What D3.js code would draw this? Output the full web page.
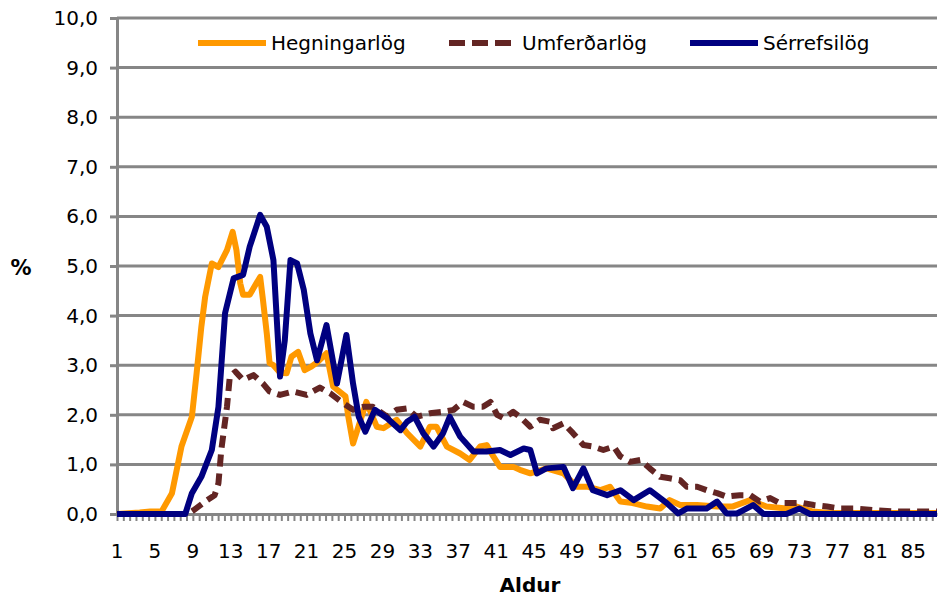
<!DOCTYPE html>
<html>
<head>
<meta charset="utf-8">
<script src="https://cdn.jsdelivr.net/npm/d3@7"></script>
<style>
  body { margin: 0; background: #fff; }
  text { font-family: Verdana, "DejaVu Sans", sans-serif; }
</style>
</head>
<body>
<div id="roott"></div>
<script>
// tick labels
let ageTicks = [1, 5, 9, 13, 17, 21, 25, 29, 33, 37, 41, 45, 49, 53, 57, 61, 65, 69, 73, 77, 81, 85];
let pctTicks = [0, 1, 2, 3, 4, 5, 6, 7, 8, 9, 10];

// Hegningarlög
let hegnAge = [1, 3.4, 4.5, 5.7, 6.8, 7.8, 8.9, 9.4, 9.9, 10.3, 11, 11.7, 12.6, 13.2, 13.6, 14, 14.3, 15, 15.7, 16.1, 16.4, 16.8, 17.1, 17.5, 18.2, 18.9, 19.4, 20.1, 20.8, 21.5, 22.2, 23.1, 23.8, 25.1, 25.4, 25.9, 27.3, 28.4, 29.1, 30.5, 31.6, 33, 34, 34.7, 35.8, 37.2, 38.2, 39.3, 40, 40.7, 41.4, 42.8, 43.5, 44.6, 46.3, 48.1, 49.5, 50.6, 52, 53, 54.1, 55.4, 56.9, 58.3, 59.3, 60.4, 62.2, 64.3, 65.9, 67.8, 69.5, 71.6, 72.7, 74.4, 76.2, 87.5];
let hegnPct = [0, 0.03, 0.05, 0.05, 0.42, 1.36, 1.96, 2.84, 3.78, 4.38, 5.05, 4.98, 5.32, 5.69, 5.32, 4.65, 4.42, 4.42, 4.65, 4.78, 4.31, 3.64, 3.04, 3.0, 2.85, 2.84, 3.17, 3.27, 2.9, 2.97, 3.07, 3.24, 2.57, 2.37, 1.96, 1.42, 2.26, 1.76, 1.73, 1.9, 1.63, 1.36, 1.76, 1.76, 1.36, 1.22, 1.09, 1.36, 1.39, 1.16, 0.95, 0.95, 0.89, 0.82, 0.92, 0.82, 0.55, 0.55, 0.48, 0.55, 0.25, 0.22, 0.15, 0.11, 0.28, 0.18, 0.18, 0.15, 0.15, 0.28, 0.15, 0.11, 0.15, 0.05, 0.02, 0.02];

// Umferðarlög
let umfAge = [1, 8.5, 9.1, 10.5, 11.3, 11.7, 12, 12.6, 12.9, 13.5, 14.3, 15.4, 16.4, 17.1, 18.2, 19.6, 21, 22.4, 23.5, 24.9, 25.9, 27, 28, 29.5, 30.5, 31.6, 32.6, 34, 35.4, 36.5, 37.5, 38.6, 39.6, 40.4, 41.1, 41.8, 42.8, 43.5, 44.6, 45.6, 46.7, 47, 48.1, 49.1, 50.2, 51.2, 52.3, 53.4, 54.1, 55.1, 56.2, 57.2, 58.3, 59.3, 60.4, 61.1, 62.2, 63.2, 64.3, 65.3, 66.7, 67.8, 68.8, 69.9, 70.9, 72, 73.4, 74.5, 75.9, 77.3, 79, 80.8, 82.9, 87.5];
let umfPct = [0, 0, 0.08, 0.28, 0.38, 0.62, 1.29, 2.16, 2.77, 2.87, 2.7, 2.8, 2.63, 2.47, 2.4, 2.47, 2.4, 2.55, 2.43, 2.23, 2.1, 2.16, 2.16, 1.96, 2.1, 2.13, 1.96, 2.03, 2.06, 2.1, 2.26, 2.16, 2.16, 2.26, 2.0, 1.93, 2.06, 1.96, 1.76, 1.9, 1.86, 1.73, 1.83, 1.63, 1.39, 1.36, 1.29, 1.36, 1.16, 1.05, 1.09, 0.92, 0.75, 0.72, 0.68, 0.55, 0.55, 0.48, 0.42, 0.35, 0.38, 0.38, 0.25, 0.32, 0.22, 0.22, 0.22, 0.18, 0.15, 0.11, 0.11, 0.08, 0.05, 0.05];

// Sérrefsilög
let serAge = [1, 8.2, 8.9, 9.9, 11, 11.7, 12.4, 13.3, 14.3, 15, 16.1, 16.8, 17.5, 18.2, 18.7, 19.3, 20, 20.7, 21.4, 22.1, 23.1, 24.2, 25.2, 25.9, 26.5, 27.2, 28.2, 29.5, 30.9, 31.6, 32.4, 33.3, 34.4, 35.4, 36.1, 37.2, 38.6, 40, 41.4, 42.5, 43.9, 44.6, 45.3, 46.3, 48.1, 49.1, 50.2, 51.2, 52.7, 54.1, 55.5, 57.2, 59, 60.2, 61.1, 63.2, 64.3, 65.3, 66.4, 68.1, 69.2, 71.6, 73, 74.1, 87.5];
let serPct = [0, 0, 0.42, 0.75, 1.29, 2.16, 4.05, 4.75, 4.82, 5.39, 6.03, 5.79, 5.12, 2.77, 3.5, 5.12, 5.05, 4.52, 3.64, 3.1, 3.81, 2.63, 3.61, 2.63, 1.96, 1.66, 2.1, 1.93, 1.69, 1.86, 1.96, 1.63, 1.36, 1.63, 1.96, 1.56, 1.26, 1.26, 1.29, 1.19, 1.32, 1.29, 0.82, 0.92, 0.95, 0.52, 0.92, 0.48, 0.38, 0.48, 0.28, 0.48, 0.22, 0.01, 0.11, 0.11, 0.25, 0.01, 0.01, 0.18, 0, 0, 0.11, 0, 0];

let seriesNames = ["Hegningarlög", "Umferðarlög", "Sérrefsilög"];
let seriesColors = ["#FF9900", "#632523", "#000080"];

//DIMENSIONS
let widthh = 938, heightt = 598;
let plotLeft = 117, plotRight = 937, plotTop = 18, plotBottom = 514;

let svg = d3.select('#roott')
  .append('svg')
  .attr('width', widthh)
  .attr('height', heightt);

let xScale = d3.scaleLinear().domain([1, 87.5]).range([plotLeft, plotRight]);
let yScale = d3.scaleLinear().domain([0, 10]).range([plotBottom, plotTop]);

let isl = d3.formatLocale({decimal: ",", thousands: ".", grouping: [3], currency: ["", ""]});
let fmt = isl.format(".1f");

// gridlines
svg.append('g')
  .selectAll('line')
  .data(pctTicks.slice(1))
  .enter()
  .append('line')
  .attr('x1', plotLeft).attr('x2', plotRight)
  .attr('y1', d => yScale(d)).attr('y2', d => yScale(d))
  .style('stroke', '#868686')
  .style('stroke-width', 3);

// y axis
let yAxis = svg.append('g')
  .attr('transform', `translate(${plotLeft},0)`)
  .call(d3.axisLeft(yScale).tickValues(pctTicks).tickFormat(fmt).tickSize(7).tickPadding(12));
yAxis.select('.domain').style('stroke', '#868686').style('stroke-width', 3);
yAxis.selectAll('.tick line').style('stroke', '#868686').style('stroke-width', 3);
yAxis.selectAll('.tick text').style('font-size', '20px').style('fill', '#000');

// x axis: minor ticks every 2/3 year, labels every 4 years
let minor = d3.range(0, 130).map(k => 1 + k * 2 / 3);
let xAxis = svg.append('g')
  .attr('transform', `translate(0,${plotBottom})`)
  .call(d3.axisBottom(xScale).tickValues(minor).tickFormat('').tickSize(7).tickSizeOuter(0));
xAxis.select('.domain').style('stroke', '#868686').style('stroke-width', 3);
xAxis.selectAll('.tick line').style('stroke', '#868686').style('stroke-width', 2);

svg.append('g')
  .selectAll('text')
  .data(ageTicks)
  .enter()
  .append('text')
  .attr('x', d => xScale(d))
  .attr('y', 558)
  .attr('text-anchor', 'middle')
  .style('font-size', '20px')
  .text(d => d);

// axis titles
svg.append('text')
  .attr('x', 21).attr('y', 275)
  .attr('text-anchor', 'middle')
  .style('font-size', '21px').style('font-weight', 'bold')
  .text('%');
svg.append('text')
  .attr('x', 530).attr('y', 592)
  .attr('text-anchor', 'middle')
  .style('font-size', '20px').style('font-weight', 'bold')
  .text('Aldur');

// lines
let lineGen = d3.line()
  .x(d => xScale(d[0]))
  .y(d => yScale(d[1]));

let allSeries = [
  d3.zip(hegnAge, hegnPct),
  d3.zip(umfAge, umfPct),
  d3.zip(serAge, serPct)
];

allSeries.forEach((s, i) => {
  svg.append('path')
    .datum(s)
    .attr('d', lineGen)
    .style('fill', 'none')
    .style('stroke', seriesColors[i])
    .style('stroke-width', 6)
    .style('stroke-linejoin', 'round')
    .style('stroke-dasharray', i == 1 ? '12,7' : null);
});

// legend
svg.append('rect')
  .attr('x', 186).attr('y', 24)
  .attr('width', 708).attr('height', 38)
  .style('fill', '#fff');

let legX = [198, 449, 690];
seriesNames.forEach((name, i) => {
  let g = svg.append('g').attr('transform', `translate(${legX[i]},43)`);
  g.append('line')
    .attr('x1', 0).attr('x2', i == 1 ? 62 : 68)
    .attr('y1', 0).attr('y2', 0)
    .style('stroke', seriesColors[i])
    .style('stroke-width', 6)
    .style('stroke-dasharray', i == 1 ? '16,7' : null);
  g.append('text')
    .attr('x', 73)
    .attr('y', 7)
    .style('font-size', '20px')
    .text(name);
});
</script>
</body>
</html>
